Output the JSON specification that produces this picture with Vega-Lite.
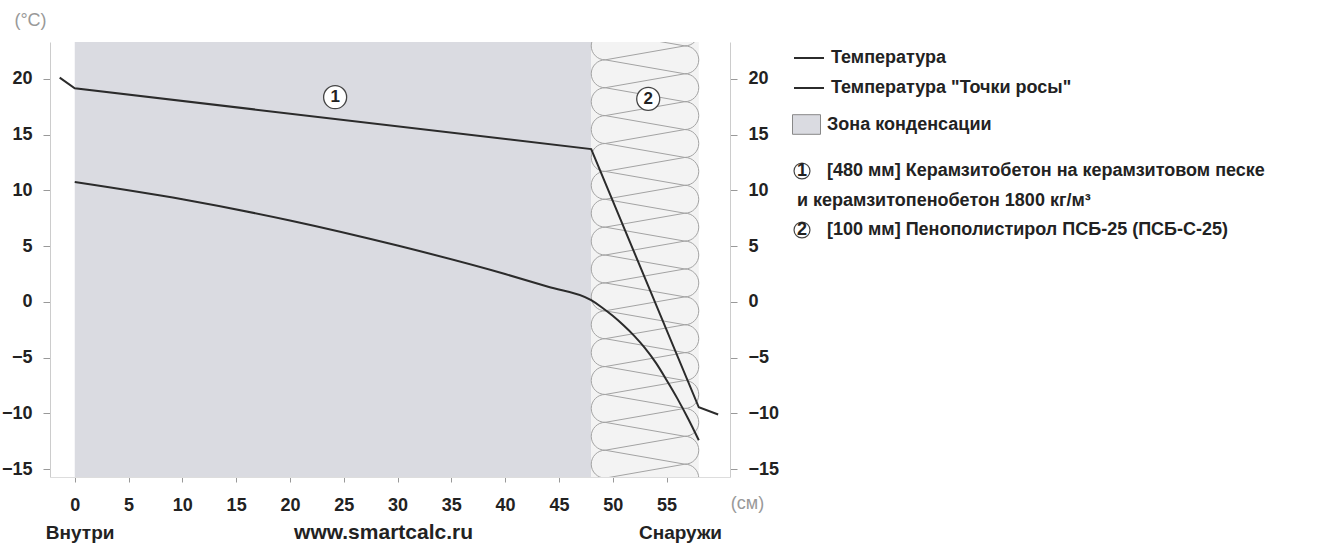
{
  "$schema": "https://vega.github.io/schema/vega-lite/v6.json",
  "width": 680,
  "height": 435,
  "autosize": {"type": "none"},
  "padding": {"left": 50, "top": 42, "right": 608, "bottom": 66},
  "background": "#ffffff",
  "config": {"font": "Liberation Sans", "view": {"stroke": null}, "axis": {"grid": false}, "style": {"guide-label": {"lineHeight": 30}}},
  "resolve": {"axis": {"y": "independent"}},
  "layer": [
    {
      "data": {"values": [{"x": 0, "xe": 48, "zone": "Зона конденсации"}]},
      "mark": {"type": "rect"},
      "encoding": {
        "x": {
          "field": "x", "type": "quantitative", "scale": {"domain": [-2.3, 60.9], "nice": false, "zero": false},
          "axis": {
            "orient": "bottom", "values": [0, 5, 10, 15, 20, 25, 30, 35, 40, 45, 50, 55],
            "title": "(см)", "titleX": 697, "titleY": 26, "titleAlign": "center", "titleBaseline": "middle", "titleAngle": 0,
            "titleFontWeight": "normal", "titleColor": "#999999", "titleFontSize": 18,
            "labelFontSize": 18, "labelFontWeight": "bold", "labelColor": "#222222", "labelBaseline": "top", "labelPadding": 14,
            "tickColor": "#999999", "tickSize": 5, "domainColor": "#dddddd", "grid": false, "labelFlush": false
          }
        },
        "x2": {"field": "xe"},
        "fill": {
          "field": "zone", "type": "nominal",
          "scale": {"range": ["#dadbe1"]},
          "legend": {
            "orient": "none", "legendX": 742, "legendY": 68, "title": null, "direction": "vertical", "padding": 0,
            "symbolType": "M-1,-0.7H1V0.7H-1Z", "symbolSize": 784, "symbolStrokeWidth": 1,
            "labelOffset": 6, "labelFontSize": 18, "labelFontWeight": "bold", "labelColor": "#222222", "labelLimit": 0,
            "encode": {"symbols": {"update": {"stroke": {"value": "#888888"}, "strokeWidth": {"value": 1}}}}
          }
        }
      }
    },
    {
      "data": {"values": [{"x": 48, "xe": 58}]},
      "mark": {"type": "rect", "color": "#f3f3f3"},
      "encoding": {
        "x": {"field": "x", "type": "quantitative", "scale": {"domain": [-2.3, 60.9], "nice": false, "zero": false}},
        "x2": {"field": "xe"}
      }
    },
    {
      "data": {"values": [
        {"k": 0, "x": 49.3, "t": 24.2}, {"k": 1, "x": 56.7, "t": 22.95}, {"k": 2, "x": 49.3, "t": 21.7}, {"k": 3, "x": 56.7, "t": 20.45},
        {"k": 4, "x": 49.3, "t": 19.2}, {"k": 5, "x": 56.7, "t": 17.95}, {"k": 6, "x": 49.3, "t": 16.7}, {"k": 7, "x": 56.7, "t": 15.45},
        {"k": 8, "x": 49.3, "t": 14.2}, {"k": 9, "x": 56.7, "t": 12.95}, {"k": 10, "x": 49.3, "t": 11.7}, {"k": 11, "x": 56.7, "t": 10.45},
        {"k": 12, "x": 49.3, "t": 9.2}, {"k": 13, "x": 56.7, "t": 7.95}, {"k": 14, "x": 49.3, "t": 6.7}, {"k": 15, "x": 56.7, "t": 5.45},
        {"k": 16, "x": 49.3, "t": 4.2}, {"k": 17, "x": 56.7, "t": 2.95}, {"k": 18, "x": 49.3, "t": 1.7}, {"k": 19, "x": 56.7, "t": 0.45},
        {"k": 20, "x": 49.3, "t": -0.8}, {"k": 21, "x": 56.7, "t": -2.05}, {"k": 22, "x": 49.3, "t": -3.3}, {"k": 23, "x": 56.7, "t": -4.55},
        {"k": 24, "x": 49.3, "t": -5.8}, {"k": 25, "x": 56.7, "t": -7.05}, {"k": 26, "x": 49.3, "t": -8.3}, {"k": 27, "x": 56.7, "t": -9.55},
        {"k": 28, "x": 49.3, "t": -10.8}, {"k": 29, "x": 56.7, "t": -12.05}, {"k": 30, "x": 49.3, "t": -13.3}, {"k": 31, "x": 56.7, "t": -14.55},
        {"k": 32, "x": 49.3, "t": -15.8}
      ]},
      "mark": {"type": "line", "clip": true, "color": "#a3a3a3", "strokeWidth": 1},
      "encoding": {
        "x": {"field": "x", "type": "quantitative", "scale": {"domain": [-2.3, 60.9], "nice": false, "zero": false}},
        "y": {"field": "t", "type": "quantitative", "scale": {"domain": [-15.7, 23.3], "nice": false, "zero": false}, "axis": null},
        "order": {"field": "k", "type": "quantitative"}
      }
    },
    {
      "data": {"values": [
        {"t": 22.95}, {"t": 20.45}, {"t": 17.95}, {"t": 15.45}, {"t": 12.95}, {"t": 10.45}, {"t": 7.95}, {"t": 5.45},
        {"t": 2.95}, {"t": 0.45}, {"t": -2.05}, {"t": -4.55}, {"t": -7.05}, {"t": -9.55}, {"t": -12.05}, {"t": -14.55}
      ]},
      "mark": {"type": "point", "clip": true, "filled": false, "shape": "M0,-1A1,1,0,0,0,0,1", "size": 778, "color": "#a3a3a3", "strokeWidth": 1, "opacity": 1},
      "encoding": {
        "x": {"datum": 49.3, "type": "quantitative", "scale": {"domain": [-2.3, 60.9], "nice": false, "zero": false}},
        "y": {"field": "t", "type": "quantitative", "scale": {"domain": [-15.7, 23.3], "nice": false, "zero": false}, "axis": null}
      }
    },
    {
      "data": {"values": [
        {"t": 24.2}, {"t": 21.7}, {"t": 19.2}, {"t": 16.7}, {"t": 14.2}, {"t": 11.7}, {"t": 9.2}, {"t": 6.7}, {"t": 4.2},
        {"t": 1.7}, {"t": -0.8}, {"t": -3.3}, {"t": -5.8}, {"t": -8.3}, {"t": -10.8}, {"t": -13.3}, {"t": -15.8}
      ]},
      "mark": {"type": "point", "clip": true, "filled": false, "shape": "M0,-1A1,1,0,0,1,0,1", "size": 778, "color": "#a3a3a3", "strokeWidth": 1, "opacity": 1},
      "encoding": {
        "x": {"datum": 56.7, "type": "quantitative", "scale": {"domain": [-2.3, 60.9], "nice": false, "zero": false}},
        "y": {"field": "t", "type": "quantitative", "scale": {"domain": [-15.7, 23.3], "nice": false, "zero": false}, "axis": null}
      }
    },
    {
      "data": {"values": [
        {"s": "Температура", "x": -1.4, "t": 20.1},
        {"s": "Температура", "x": 0, "t": 19.15},
        {"s": "Температура", "x": 48, "t": 13.7},
        {"s": "Температура", "x": 58, "t": -9.45},
        {"s": "Температура", "x": 59.8, "t": -10.1}
      ]},
      "mark": {"type": "line", "strokeWidth": 2, "interpolate": "linear"},
      "encoding": {
        "x": {"field": "x", "type": "quantitative", "scale": {"domain": [-2.3, 60.9], "nice": false, "zero": false}},
        "y": {
          "field": "t", "type": "quantitative", "scale": {"domain": [-15.7, 23.3], "nice": false, "zero": false},
          "axis": {
            "orient": "left", "values": [-15, -10, -5, 0, 5, 10, 15, 20],
            "title": "(°C)", "titleX": -20, "titleY": -22, "titleAlign": "center", "titleBaseline": "middle", "titleAngle": 0,
            "titleFontWeight": "normal", "titleColor": "#999999", "titleFontSize": 18,
            "labelFontSize": 18, "labelFontWeight": "bold", "labelColor": "#222222", "labelPadding": 11,
            "tickColor": "#999999", "tickSize": 7, "domainColor": "#cccccc", "grid": false, "labelFlush": false
          }
        },
        "color": {
          "field": "s", "type": "nominal",
          "scale": {"domain": ["Температура", "Температура \"Точки росы\""], "range": ["#2b2b2b", "#2b2b2b"]},
          "legend": {
            "orient": "none", "legendX": 743, "legendY": 0, "title": null, "direction": "vertical", "padding": 0,
            "symbolType": "stroke", "symbolSize": 900, "symbolStrokeWidth": 2, "labelOffset": 6, "rowPadding": 5,
            "labelFontSize": 18, "labelFontWeight": "bold", "labelColor": "#222222", "labelLimit": 0
          }
        }
      }
    },
    {
      "data": {"values": [
        {"s": "Температура \"Точки росы\"", "x": 0, "t": 10.75},
        {"s": "Температура \"Точки росы\"", "x": 10, "t": 9.2},
        {"s": "Температура \"Точки росы\"", "x": 20, "t": 7.3},
        {"s": "Температура \"Точки росы\"", "x": 30, "t": 5.05},
        {"s": "Температура \"Точки росы\"", "x": 40, "t": 2.5},
        {"s": "Температура \"Точки росы\"", "x": 44, "t": 1.35},
        {"s": "Температура \"Точки росы\"", "x": 48, "t": 0.15},
        {"s": "Температура \"Точки росы\"", "x": 49, "t": -0.5},
        {"s": "Температура \"Точки росы\"", "x": 50, "t": -1.25},
        {"s": "Температура \"Точки росы\"", "x": 51, "t": -2.1},
        {"s": "Температура \"Точки росы\"", "x": 52, "t": -3.05},
        {"s": "Температура \"Точки росы\"", "x": 53, "t": -4.15},
        {"s": "Температура \"Точки росы\"", "x": 54, "t": -5.45},
        {"s": "Температура \"Точки росы\"", "x": 55, "t": -7.0},
        {"s": "Температура \"Точки росы\"", "x": 56, "t": -8.65},
        {"s": "Температура \"Точки росы\"", "x": 57, "t": -10.45},
        {"s": "Температура \"Точки росы\"", "x": 58, "t": -12.4}
      ]},
      "mark": {"type": "line", "strokeWidth": 2, "interpolate": "monotone"},
      "encoding": {
        "x": {"field": "x", "type": "quantitative", "scale": {"domain": [-2.3, 60.9], "nice": false, "zero": false}},
        "y": {
          "field": "t", "type": "quantitative", "scale": {"domain": [-15.7, 23.3], "nice": false, "zero": false},
          "axis": {
            "orient": "right", "values": [-15, -10, -5, 0, 5, 10, 15, 20], "title": null,
            "labelFontSize": 18, "labelFontWeight": "bold", "labelColor": "#222222", "labelPadding": 11,
            "tickColor": "#999999", "tickSize": 7, "domainColor": "#cccccc", "grid": false, "labelFlush": false
          }
        },
        "color": {
          "field": "s", "type": "nominal",
          "scale": {"domain": ["Температура", "Температура \"Точки росы\""], "range": ["#2b2b2b", "#2b2b2b"]},
          "legend": {
            "orient": "none", "legendX": 743, "legendY": 0, "title": null, "direction": "vertical", "padding": 0,
            "symbolType": "stroke", "symbolSize": 900, "symbolStrokeWidth": 2, "labelOffset": 6, "rowPadding": 5,
            "labelFontSize": 18, "labelFontWeight": "bold", "labelColor": "#222222", "labelLimit": 0
          }
        }
      }
    },
    {
      "data": {"values": [{"layer": "1", "x": 24.2, "t": 18.35}, {"layer": "2", "x": 53.3, "t": 18.2}]},
      "mark": {"type": "point", "filled": true, "fill": "#ffffff", "stroke": "#444444", "strokeWidth": 1.3, "size": 530, "opacity": 1},
      "encoding": {
        "x": {"field": "x", "type": "quantitative", "scale": {"domain": [-2.3, 60.9], "nice": false, "zero": false}},
        "y": {"field": "t", "type": "quantitative", "scale": {"domain": [-15.7, 23.3], "nice": false, "zero": false}, "axis": null},
        "shape": {
          "field": "layer", "type": "nominal",
          "scale": {"domain": ["1", "2"], "range": ["circle", "circle"]},
          "legend": {
            "orient": "none", "legendX": 743, "legendY": 120, "title": null, "direction": "vertical", "padding": 0,
            "symbolSize": 254, "symbolStrokeWidth": 1.2, "labelOffset": -14, "rowPadding": 9,
            "labelFontSize": 18, "labelFontWeight": "bold", "labelColor": "#222222", "labelLimit": 0,
            "labelExpr": "datum.value == '1' ? ['1\u00a0\u00a0\u00a0\u00a0[480 мм] Керамзитобетон на керамзитовом песке', 'и керамзитопенобетон 1800 кг/м³'] : '2\u00a0\u00a0\u00a0\u00a0[100 мм] Пенополистирол ПСБ-25 (ПСБ-С-25)'",
            "encode": {
              "symbols": {"update": {"fill": {"value": "#ffffff"}, "stroke": {"value": "#555555"}, "strokeWidth": {"value": 1.2}}}
            }
          }
        }
      }
    },
    {
      "data": {"values": [{"layer": "1", "x": 24.2, "t": 18.35}, {"layer": "2", "x": 53.3, "t": 18.2}]},
      "mark": {"type": "text", "fontSize": 17, "fontWeight": "bold", "color": "#222222", "align": "center", "baseline": "middle"},
      "encoding": {
        "x": {"field": "x", "type": "quantitative", "scale": {"domain": [-2.3, 60.9], "nice": false, "zero": false}},
        "y": {"field": "t", "type": "quantitative", "scale": {"domain": [-15.7, 23.3], "nice": false, "zero": false}, "axis": null},
        "text": {"field": "layer"}
      }
    },
    {
      "data": {"values": [{"lab": "Внутри", "x": 0.5}, {"lab": "Снаружи", "x": 56.3}]},
      "mark": {"type": "text", "fontSize": 19, "fontWeight": "bold", "color": "#222222", "align": "center", "baseline": "middle", "dy": 56},
      "encoding": {
        "x": {"field": "x", "type": "quantitative", "scale": {"domain": [-2.3, 60.9], "nice": false, "zero": false}},
        "y": {"datum": -15.7, "type": "quantitative", "scale": {"domain": [-15.7, 23.3], "nice": false, "zero": false}, "axis": null},
        "text": {"field": "lab"}
      }
    },
    {
      "data": {"values": [{"lab": "www.smartcalc.ru", "x": 28.7}]},
      "mark": {"type": "text", "fontSize": 21, "fontWeight": "bold", "color": "#222222", "align": "center", "baseline": "middle", "dy": 56},
      "encoding": {
        "x": {"field": "x", "type": "quantitative", "scale": {"domain": [-2.3, 60.9], "nice": false, "zero": false}},
        "y": {"datum": -15.7, "type": "quantitative", "scale": {"domain": [-15.7, 23.3], "nice": false, "zero": false}, "axis": null},
        "text": {"field": "lab"}
      }
    }
  ]
}
